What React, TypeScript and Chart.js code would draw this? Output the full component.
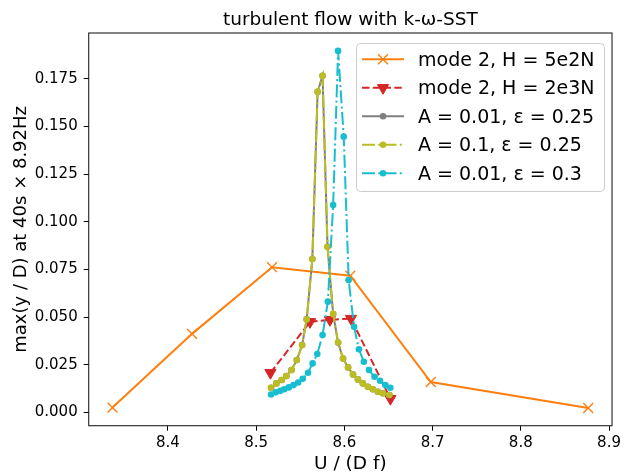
import React, { useEffect, useRef } from 'react';
import { Chart, registerables } from 'chart.js';

Chart.register(...registerables);

const FONT = "'DejaVu Sans', 'Noto Sans', sans-serif";

// ---- text ----
const titleText = 'turbulent flow with k-ω-SST';
const xLabel = 'U / (D f)';
const yLabel = 'max(y / D) at 40s × 8.92Hz';

// ---- axes ----
const xTicks = [8.4, 8.5, 8.6, 8.7, 8.8, 8.9];
const yTicks = [0, 0.025, 0.05, 0.075, 0.1, 0.125, 0.15, 0.175];
const xMin = 8.3102;
const xMax = 8.9034;
const yMin = -0.007;
const yMax = 0.1991;

// ---- series: mode 2, H = 5e2N ----
const mode2H5e2X = [8.3372, 8.4273, 8.518, 8.6067, 8.698, 8.8764];
const mode2H5e2Y = [0.0025, 0.0412, 0.0762, 0.0717, 0.0159, 0.0023];

// ---- series: mode 2, H = 2e3N ----
const mode2H2e3X = [8.5162, 8.5611, 8.5836, 8.6075, 8.6522];
const mode2H2e3Y = [0.0208, 0.0475, 0.0486, 0.0492, 0.0072];

// ---- series: eps = 0.25 (A = 0.01 and A = 0.1) ----
const eps025X = [
  8.5169, 8.5229, 8.5289, 8.5342, 8.5401, 8.5461, 8.5521, 8.5573, 8.5637, 8.5697, 8.5753, 8.5809,
  8.5873, 8.5929, 8.5985, 8.6042, 8.6098, 8.6154, 8.621, 8.6267, 8.6323, 8.6379, 8.6435, 8.651,
];
const a001Eps025Y = [
  0.0129, 0.0152, 0.017, 0.0191, 0.0222, 0.0275, 0.0353, 0.0488, 0.0805, 0.1683, 0.1766, 0.0869,
  0.0516, 0.0367, 0.0283, 0.0236, 0.0199, 0.0173, 0.0152, 0.0134, 0.0121, 0.0108, 0.01, 0.0091,
];
const a01Eps025Y = [
  0.0129, 0.0152, 0.017, 0.0191, 0.0222, 0.0275, 0.0353, 0.0488, 0.0805, 0.1683, 0.1766, 0.0869,
  0.0516, 0.0367, 0.0283, 0.0236, 0.0199, 0.0173, 0.0152, 0.0134, 0.0121, 0.0108, 0.01, 0.0091,
];

// ---- series: A = 0.01, eps = 0.3 ----
const a001Eps03X = [
  8.5169, 8.5222, 8.5274, 8.5319, 8.5371, 8.5424, 8.5476, 8.5528, 8.5588, 8.564, 8.5693, 8.5753,
  8.5813, 8.5873, 8.5929, 8.5993, 8.6049, 8.611, 8.6165, 8.6221, 8.6279, 8.6342, 8.6404, 8.6465,
  8.6521,
];
const a001Eps03Y = [
  0.0094, 0.0105, 0.0113, 0.0121, 0.0131, 0.0143, 0.0157, 0.0176, 0.0208, 0.0257, 0.0306, 0.0406,
  0.0581, 0.1088, 0.1897, 0.1447, 0.0695, 0.0449, 0.0331, 0.0266, 0.0222, 0.0187, 0.0166, 0.0143,
  0.0129,
];

const pts = (xs: number[], ys: number[]) => xs.map((x, i) => ({ x, y: ys[i] }));

function drawMarker(ctx: CanvasRenderingContext2D, ds: any, x: number, y: number) {
  const style = ds.pointStyle;
  const r = ds.pointRadius;
  const color = ds.pointBorderColor || ds.borderColor;
  ctx.save();
  ctx.setLineDash([]);
  ctx.strokeStyle = color;
  ctx.fillStyle = ds.pointBackgroundColor || color;
  ctx.lineWidth = ds.pointBorderWidth;
  ctx.beginPath();
  if (style === 'crossRot') {
    const o = Math.cos(Math.PI / 4) * r;
    ctx.moveTo(x - o, y - o);
    ctx.lineTo(x + o, y + o);
    ctx.moveTo(x - o, y + o);
    ctx.lineTo(x + o, y - o);
    ctx.stroke();
  } else if (style === 'triangle') {
    let rad = ((ds.pointRotation || 0) * Math.PI) / 180;
    ctx.moveTo(x + Math.sin(rad) * r, y - Math.cos(rad) * r);
    rad += (2 * Math.PI) / 3;
    ctx.lineTo(x + Math.sin(rad) * r, y - Math.cos(rad) * r);
    rad += (2 * Math.PI) / 3;
    ctx.lineTo(x + Math.sin(rad) * r, y - Math.cos(rad) * r);
    ctx.closePath();
    ctx.fill();
    ctx.stroke();
  } else {
    ctx.arc(x, y, r, 0, Math.PI * 2);
    ctx.fill();
    if (ds.pointBorderWidth) ctx.stroke();
  }
  ctx.restore();
}

const titlePlugin = {
  id: 'mplTitle',
  afterDraw(chart: any) {
    const { ctx, chartArea: a } = chart;
    ctx.save();
    ctx.fillStyle = '#000';
    ctx.font = `18.5px ${FONT}`;
    ctx.textAlign = 'center';
    ctx.textBaseline = 'alphabetic';
    ctx.fillText(titleText, (a.left + a.right) / 2, 25);
    ctx.restore();
  },
};

const framePlugin = {
  id: 'mplFrame',
  afterDatasetsDraw(chart: any) {
    const { ctx, chartArea: a } = chart;
    ctx.save();
    ctx.strokeStyle = '#222';
    ctx.lineWidth = 1.1;
    ctx.strokeRect(a.left, a.top, a.right - a.left, a.bottom - a.top);
    ctx.restore();
  },
};

const legendPlugin = {
  id: 'mplLegend',
  afterDraw(chart: any) {
    const { ctx, chartArea: a } = chart;
    const w = 248;
    const h = 148;
    const left = a.right - 8 - w;
    const top = a.top + 10;
    ctx.save();
    ctx.beginPath();
    (ctx as any).roundRect(left + 0.5, top + 0.5, w, h, 4);
    ctx.fillStyle = 'rgba(255,255,255,0.8)';
    ctx.fill();
    ctx.strokeStyle = '#cccccc';
    ctx.lineWidth = 1;
    ctx.stroke();
    chart.data.datasets.forEach((ds: any, i: number) => {
      const y = top + 16.3 + 28.5 * i;
      const x0 = left + 6;
      const x1 = left + 48;
      ctx.save();
      ctx.beginPath();
      ctx.strokeStyle = ds.borderColor;
      ctx.lineWidth = ds.borderWidth;
      ctx.setLineDash(ds.borderDash || []);
      ctx.moveTo(x0, y);
      ctx.lineTo(x1, y);
      ctx.stroke();
      ctx.restore();
      drawMarker(ctx, ds, (x0 + x1) / 2, y);
      ctx.fillStyle = '#000';
      ctx.font = `19px ${FONT}`;
      ctx.textBaseline = 'alphabetic';
      ctx.textAlign = 'left';
      ctx.fillText(ds.label, left + 62, y + 6.6);
    });
    ctx.restore();
  },
};

const App = () => {
  const ref = useRef<HTMLCanvasElement>(null);

  useEffect(() => {
    document.body.style.margin = '0';
    const canvas = ref.current;
    if (!canvas) return;
    const dot = 3.3;
    const dashDot = [13, 3.25, 2, 3.25];
    const chart = new Chart(canvas, {
      type: 'scatter',
      data: {
        datasets: [
          {
            label: 'mode 2, H = 5e2N',
            data: pts(mode2H5e2X, mode2H5e2Y),
            showLine: true,
            borderColor: '#ff7f0e',
            backgroundColor: '#ff7f0e',
            borderWidth: 2,
            pointStyle: 'crossRot',
            pointRadius: 7,
            pointBorderWidth: 1.4,
            pointBorderColor: '#ff7f0e',
            pointBackgroundColor: '#ff7f0e',
            order: 5,
          },
          {
            label: 'mode 2, H = 2e3N',
            data: pts(mode2H2e3X, mode2H2e3Y),
            showLine: true,
            borderColor: '#d62728',
            backgroundColor: '#d62728',
            borderWidth: 2,
            borderDash: [7.5, 3.25],
            pointStyle: 'triangle',
            pointRotation: 180,
            pointRadius: 6.5,
            pointBorderWidth: 1,
            pointBorderColor: '#d62728',
            pointBackgroundColor: '#d62728',
            order: 4,
          },
          {
            label: 'A = 0.01, ε = 0.25',
            data: pts(eps025X, a001Eps025Y),
            showLine: true,
            borderColor: '#7f7f7f',
            backgroundColor: '#7f7f7f',
            borderWidth: 2,
            pointStyle: 'circle',
            pointRadius: dot,
            pointBorderWidth: 0,
            pointBorderColor: '#7f7f7f',
            pointBackgroundColor: '#7f7f7f',
            order: 3,
          },
          {
            label: 'A = 0.1, ε = 0.25',
            data: pts(eps025X, a01Eps025Y),
            showLine: true,
            borderColor: '#bcbd22',
            backgroundColor: '#bcbd22',
            borderWidth: 2,
            borderDash: dashDot,
            pointStyle: 'circle',
            pointRadius: dot,
            pointBorderWidth: 0,
            pointBorderColor: '#bcbd22',
            pointBackgroundColor: '#bcbd22',
            order: 2,
          },
          {
            label: 'A = 0.01, ε = 0.3',
            data: pts(a001Eps03X, a001Eps03Y),
            showLine: true,
            borderColor: '#17becf',
            backgroundColor: '#17becf',
            borderWidth: 2,
            borderDash: dashDot,
            pointStyle: 'circle',
            pointRadius: dot,
            pointBorderWidth: 0,
            pointBorderColor: '#17becf',
            pointBackgroundColor: '#17becf',
            order: 1,
          },
        ],
      } as any,
      options: {
        animation: false,
        responsive: false,
        devicePixelRatio: 1,
        events: [],
        layout: { padding: { left: 0, right: 9, top: 33, bottom: 0 }, autoPadding: false } as any,
        plugins: {
          legend: { display: false },
          tooltip: { enabled: false },
          title: { display: false },
        },
        scales: {
          x: {
            type: 'linear',
            min: xMin,
            max: xMax,
            afterBuildTicks: (s: any) => {
              s.ticks = xTicks.map((v) => ({ value: v }));
            },
            afterFit: (s: any) => {
              s.height = 50.3;
            },
            ticks: {
              color: '#000',
              font: { family: FONT, size: 15 },
              padding: 3,
              maxRotation: 0,
              autoSkip: false,
              callback: (v: any) => Number(v).toFixed(1),
            },
            grid: {
              display: true,
              drawOnChartArea: false,
              drawTicks: true,
              tickLength: 5,
              tickColor: '#000',
              tickWidth: 1,
            },
            border: { display: false },
            title: {
              display: true,
              text: xLabel,
              color: '#000',
              font: { family: FONT, size: 18.5 },
              padding: { top: 0, bottom: 0.5 },
            },
          },
          y: {
            type: 'linear',
            min: yMin,
            max: yMax,
            afterBuildTicks: (s: any) => {
              s.ticks = yTicks.map((v) => ({ value: v }));
            },
            afterFit: (s: any) => {
              s.width = 88.7;
            },
            ticks: {
              color: '#000',
              font: { family: FONT, size: 15 },
              padding: 6,
              autoSkip: false,
              callback: (v: any) => Number(v).toFixed(3),
            },
            grid: {
              display: true,
              drawOnChartArea: false,
              drawTicks: true,
              tickLength: 5,
              tickColor: '#000',
              tickWidth: 1,
            },
            border: { display: false },
            title: {
              display: true,
              text: yLabel,
              color: '#000',
              font: { family: FONT, size: 18 },
              padding: { top: 10.5, bottom: 0 },
            },
          },
        },
      } as any,
      plugins: [framePlugin, titlePlugin, legendPlugin],
    });
    return () => chart.destroy();
  }, []);

  return (
    <div style={{ position: 'absolute', left: 0, top: 0, width: 624, height: 476 }}>
      <canvas ref={ref} width={624} height={476} style={{ display: 'block', width: 624, height: 476 }} />
    </div>
  );
};

export default App;
